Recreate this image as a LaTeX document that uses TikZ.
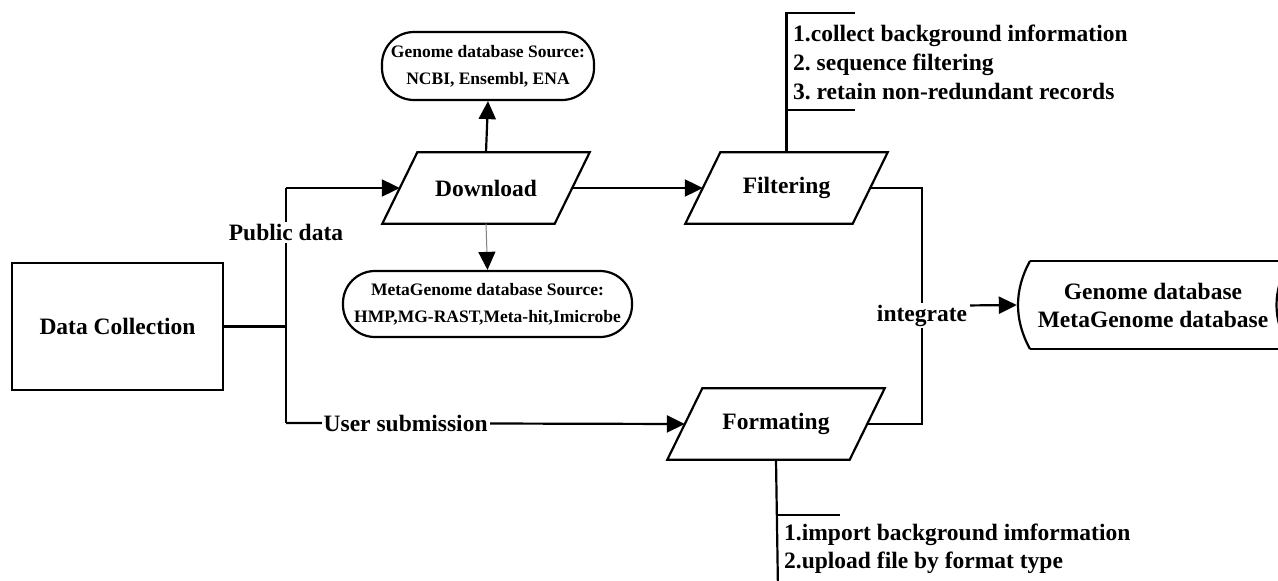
\documentclass[tikz,border=0pt]{standalone}
\usepackage{fontspec}
\setmainfont{Liberation Serif}
\usetikzlibrary{arrows.meta}
\frenchspacing
\newcommand\paraoutline[1]{\draw[ln] ([xshift=-17.5pt]#1.south west) -- ([xshift=-17.5pt]#1.south east) -- ([xshift=17.5pt]#1.north east) -- ([xshift=17.5pt]#1.north west) -- cycle;}
\begin{document}
\begin{tikzpicture}[x=1pt,y=-1pt,
  ln/.style={line width=2.2pt, line join=miter},
  arr/.style={ln, -{Triangle[length=18pt,width=17pt]}},
  garr/.style={line width=1pt, draw=gray, -{Triangle[length=18pt,width=17pt,color=black]}},
  big/.style={font=\bfseries\fontsize{23.5}{28}\selectfont},
  small/.style={font=\bfseries\fontsize{17.5}{27}\selectfont},
  box/.style={big, draw, line width=2.2pt, minimum width=211pt, minimum height=127pt, inner sep=0pt},
  para/.style={big, minimum height=71pt, inner sep=0pt},
  term/.style={small, draw, line width=2.2pt, rounded corners=32pt, align=center, inner sep=0pt},
  lbl/.style={big, fill=white, inner sep=2pt},
  anno/.style={big, align=left, anchor=west, inner sep=0pt}]
\useasboundingbox (0,0) rectangle (1278,581);
\clip (0,0) rectangle (1278,581);

% nodes
\node[box] (dc) at (117.5,326.5) {Data Collection};
\node[para, minimum width=172pt] (dl) at (486,188) {Download};
\node[para, minimum width=167pt] (ft) at (786.5,188) {Filtering};
\node[para, minimum width=182pt] (fm) at (776,424) {Formating};
\paraoutline{dl}
\paraoutline{ft}
\paraoutline{fm}
\node[term, minimum width=212pt, minimum height=68pt] (gs) at (488,66) {Genome database Source:\\NCBI, Ensembl, ENA};
\node[term, minimum width=289pt, minimum height=66pt] (ms) at (487.5,304) {MetaGenome database Source:\\HMP,MG-RAST,Meta-hit,Imicrobe};
\node[big, align=center, minimum width=272pt, minimum height=88pt, inner sep=0pt] (db) at (1153,305) {Genome database\\MetaGenome database};
\draw[ln] (1030,261) -- (1295,261);
\draw[ln] (1030,349) -- (1295,349);
\draw[ln] (1030,261) .. controls (1014,290) and (1014,320) .. (1030,349);
\draw[ln] (1290,261) .. controls (1272,290) and (1272,320) .. (1290,349);

% coordinates
\coordinate (j) at (286,326.5);
\coordinate (jt) at (286,188);
\coordinate (jb) at (286,423);
\coordinate (it) at (922,188);
\coordinate (ib) at (922,424);
\coordinate (fa) at (786.5,13);
\coordinate (fb) at (786.5,110);
\coordinate (ga) at (778,515);
\coordinate (gb) at (778,590);

% connectors
\draw[ln] (dc.east) -- (j);
\draw[ln] (jt) -- node[lbl, pos=0.19] {Public data} (jb);
\draw[arr] (jt) -- (dl.west);
\draw[arr] (jb) -- node[lbl, pos=0.30] {User submission} (fm.west);
\draw[arr] (dl.north) -- (gs.south);
\draw[garr] (dl.south) -- (ms.north);
\draw[arr] (dl.east) -- (ft.west);
\draw[ln] (ft.east) -- (it) -- node[lbl, pos=0.54] (integ) {integrate} (ib) -- (fm.east);
\draw[arr] ([yshift=10pt]integ.east) -- (db.west);

% annotations
\draw[ln] (ft.north) -- (fa) -- ++(68,0);
\draw[ln] (fb) -- ++(68,0);
\node[anno] (fn) at (793,62) {1.collect background information\\[1pt]2. sequence filtering\\[1pt]3. retain non-redundant records};
\draw[ln] (fm.south) -- (gb);
\draw[ln] (ga) -- ++(62,0);
\node[anno] (gn) at (784,549) {1.import background imformation\\2.upload file by format type};
\end{tikzpicture}
\end{document}
